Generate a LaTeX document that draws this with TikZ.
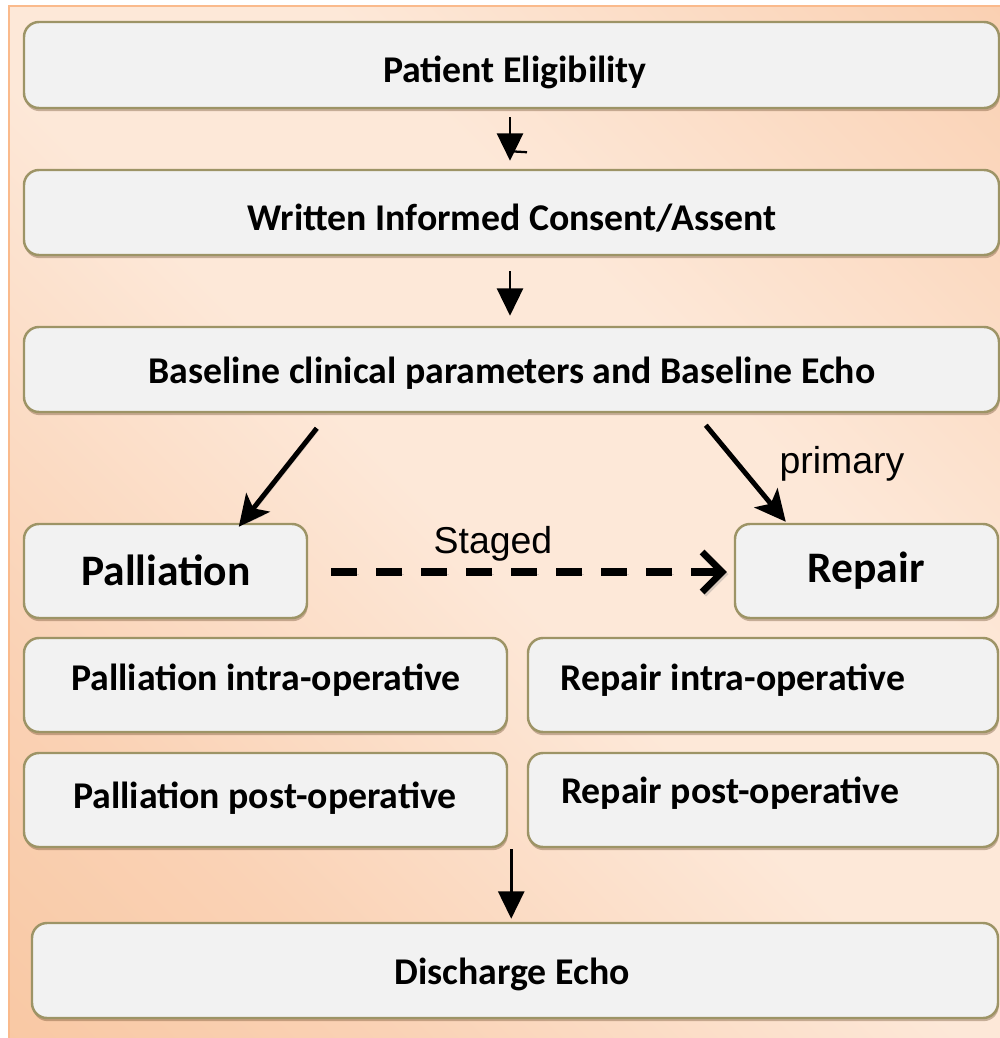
\documentclass[tikz,border=0pt]{standalone}
\usepackage{fontspec}
\setmainfont{Carlito}
\newfontfamily\arialfont{Liberation Sans}
\usetikzlibrary{arrows.meta,shadows,calc}

\definecolor{bgdark}{RGB}{247,190,146}
\definecolor{bgmid}{RGB}{250,210,181}
\definecolor{bglight}{RGB}{253,232,216}
\definecolor{boxfill}{RGB}{242,242,242}
\definecolor{boxline}{RGB}{157,148,102}
\definecolor{bgedge}{RGB}{250,186,140}
\pgfdeclarehorizontalshading{bgshade}{100bp}{color(0bp)=(bgdark); color(28bp)=(bgmid); color(48bp)=(bglight); color(62bp)=(bglight); color(84bp)=(bgmid); color(100bp)=(bgdark)}

\begin{document}
\begin{tikzpicture}[x=0.02cm,y=-0.02cm,
  box/.style 2 args={draw=boxline, line width=1.4pt, fill=boxfill, rounded corners=0.3cm,
    minimum width=#1*0.02cm, minimum height=#2*0.02cm, inner sep=0pt,
    drop shadow={shadow xshift=0.4pt, shadow yshift=-1.8pt, fill=black!50!brown, opacity=0.35}},
  boxtext/.style={font=\bfseries\fontsize{21.5}{24}\selectfont, anchor=base, inner sep=0pt},
  bigtext/.style={font=\bfseries\fontsize{24.8}{28}\selectfont, anchor=base, inner sep=0pt},
  lbltext/.style={font=\arialfont\fontsize{21.3}{24}\selectfont, anchor=base, inner sep=0pt},
  arrshadow/.style={preaction={draw=black!50, opacity=0.3, transform canvas={xshift=1pt, yshift=-1.2pt}}},
  thinarrow/.style={line width=1.7pt, -{Triangle[length=0.55cm, width=0.52cm]}},
  diagarrow/.style={line width=2.8pt, arrshadow, -{Stealth[length=0.62cm, width=0.6cm, inset=0.15cm]}},
  dashpat/.style={dash pattern=on 0.52cm off 0.38cm},
  dasharrow/.style={line width=4.4pt, dashpat,
    preaction={draw=black!50, opacity=0.3, dashpat, transform canvas={xshift=1pt, yshift=-1.2pt}},
    -{Straight Barb[length=0.4cm, width=0.8cm, line width=3.8pt]}}
]
\useasboundingbox (0,0) rectangle (1000,1038);
\fill[white] (0,0) rectangle (1000,1038);
\shade[shading=bgshade, shading angle=45] (9,6) rectangle (1000,1038);
\draw[bgedge, line width=1.2pt] (9,1038) -- (9,6) -- (1000,6);

% boxes
\node[box={975}{86}] (B1) at (511.5,65) {};
\node[box={975}{85}] (B2) at (511.5,212.5) {};
\node[box={975}{85}] (B3) at (511.5,369.5) {};
\node[box={283}{94}] (Pal) at (165.5,571) {};
\node[box={263}{94}] (Rep) at (866.5,571) {};
\node[box={483}{94}] (PI) at (265.5,685) {};
\node[box={470}{94}] (RI) at (763,685) {};
\node[box={483}{94}] (PP) at (265.5,800) {};
\node[box={470}{94}] (RP) at (763,800) {};
\node[box={966}{95}] (DE) at (515,970.5) {};

% texts
\node[boxtext] (t1) at (515,82) {Patient Eligibility};
\node[boxtext] (t2) at (512,230) {Written Informed Consent/Assent};
\node[boxtext] (t3) at (512,383) {Baseline clinical parameters and Baseline Echo};
\node[bigtext] (tpal) at (166,585) {Palliation};
\node[bigtext] (trep) at (866,582) {Repair};
\node[boxtext] (tpi) at (266,690) {Palliation intra-operative};
\node[boxtext] (tri) at (733,690) {Repair intra-operative};
\node[boxtext] (tpp) at (265,808) {Palliation post-operative};
\node[boxtext] (trp) at (730,803) {Repair post-operative};
\node[boxtext] (tde) at (512,984) {Discharge Echo};
\node[lbltext] (lstaged) at (493,553) {Staged};
\node[lbltext] (lprimary) at (842,473) {primary};

% connectors
\draw[thinarrow] ($(B1.south)+(-1.5,8)$) -- ($(B2.north)+(-1.5,-8)$);
\draw[line width=1.3pt] ($(B1.south)+(-1.5,42)$) -- ++(17,1);
\draw[thinarrow] ($(B2.south)+(-1.5,15)$) -- ($(B3.north)+(-1.5,-10)$);
\draw[diagarrow] ($(B3.south west)+(294,15)$) -- ($(Pal.north west)+(216,4)$);
\draw[diagarrow] ($(B3.south west)+(683,12)$) -- ($(Rep.north west)+(52,-1)$);
\draw[dasharrow] ($(Pal.east)+(23,1)$) -- ($(Rep.west)+(-7,1)$);
\coordinate (a5) at ($(PP.south east)+(3,1)$);
\draw[thinarrow] (a5) -- ($(a5 |- DE.north)+(0,-3)$);
\end{tikzpicture}
\end{document}
